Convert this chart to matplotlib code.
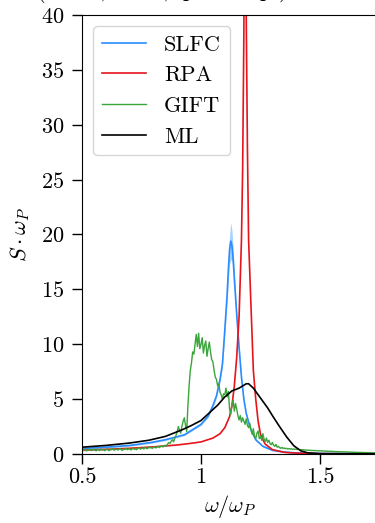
import numpy as np
import matplotlib
matplotlib.use("Agg")
from matplotlib import pyplot as plt

plt.rcParams['font.family'] = ['cmr10', 'DejaVu Serif']
plt.rcParams['mathtext.fontset'] = 'cm'
plt.rcParams['axes.formatter.use_mathtext'] = True
plt.rcParams['font.size'] = 16

# SLFC (blue) with uncertainty band
slfc_x = [0.50, 0.60, 0.70, 0.79, 0.85, 0.93, 1.00, 1.03, 1.05, 1.065,
          1.08, 1.09, 1.10, 1.11, 1.115, 1.12, 1.125, 1.13, 1.135, 1.14,
          1.15, 1.16, 1.17, 1.18, 1.19, 1.20, 1.21, 1.23, 1.26, 1.30,
          1.35, 1.40, 1.50, 1.75]
slfc_y = [0.50, 0.62, 0.78, 1.05, 1.30, 1.75, 2.70, 3.45, 4.40, 5.30,
          6.80, 8.20, 11.3, 14.6, 16.8, 18.6, 19.4, 19.0, 17.8, 16.0,
          12.7, 9.7, 7.0, 5.0, 3.7, 2.9, 2.2, 1.3, 0.7, 0.35,
          0.18, 0.10, 0.05, 0.03]
slfc_err = [0.08, 0.08, 0.08, 0.08, 0.08, 0.08, 0.10, 0.12, 0.15, 0.18,
            0.22, 0.30, 0.45, 0.65, 0.95, 1.30, 1.70, 1.40, 1.00, 0.70,
            0.45, 0.30, 0.22, 0.18, 0.15, 0.12, 0.10, 0.08, 0.08, 0.08,
            0.06, 0.05, 0.04, 0.03]

# RPA (red)
rpa_x = [0.50, 0.60, 0.70, 0.80, 0.90, 0.95, 1.00, 1.05, 1.08, 1.10,
         1.12, 1.13, 1.14, 1.15, 1.16, 1.17, 1.175, 1.18, 1.185, 1.19,
         1.195, 1.20, 1.21, 1.22, 1.23, 1.24, 1.25, 1.26, 1.27, 1.30,
         1.35, 1.40, 1.50, 1.75]
rpa_y = [0.35, 0.42, 0.52, 0.65, 0.82, 0.95, 1.10, 1.45, 1.85, 2.40,
         3.40, 4.40, 6.20, 8.80, 12.5, 19.5, 26.0, 38.0, 60.0, 40.0,
         28.0, 19.5, 13.5, 7.6, 5.0, 3.0, 1.8, 1.3, 0.9, 0.4,
         0.15, 0.08, 0.03, 0.01]

# ML (black)
ml_x = [0.50, 0.60, 0.70, 0.78, 0.85, 0.92, 0.96, 1.00, 1.04, 1.07,
        1.10, 1.13, 1.16, 1.19, 1.20, 1.22, 1.25, 1.28, 1.30, 1.33,
        1.36, 1.39, 1.42, 1.45, 1.50, 1.75]
ml_y = [0.62, 0.78, 1.00, 1.25, 1.60, 2.20, 2.60, 3.05, 3.85, 4.45,
        5.20, 5.75, 6.00, 6.40, 6.40, 6.00, 5.10, 4.20, 3.50, 2.50,
        1.55, 0.75, 0.28, 0.10, 0.03, 0.02]

# GIFT (green), sampled every 0.005 from 0.5 to 1.75
gift_y = [0.36, 0.30, 0.42, 0.33, 0.28, 0.40, 0.35, 0.45, 0.31, 0.38,
          0.42, 0.34, 0.29, 0.44, 0.37, 0.32, 0.46, 0.36, 0.41, 0.30,
          0.39, 0.47, 0.35, 0.31, 0.43, 0.38, 0.49, 0.34, 0.40, 0.45,
          0.36, 0.42, 0.50, 0.38, 0.33, 0.46, 0.41, 0.52, 0.39, 0.44,
          0.48, 0.37, 0.43, 0.55, 0.41, 0.47, 0.39, 0.52, 0.58, 0.44,
          0.50, 0.56, 0.46, 0.61, 0.52, 0.48, 0.63, 0.55, 0.60, 0.51,
          0.58, 0.66, 0.55, 0.62, 0.70, 0.59, 0.68, 0.75, 0.64, 0.72,
          0.80, 0.74, 0.92, 1.05, 0.96, 1.18, 1.30, 1.12, 1.45, 1.70,
          2.05, 2.50, 2.15, 1.90, 2.55, 3.00, 3.30, 2.60, 2.05, 4.40,
          6.20, 7.60, 8.30, 9.30, 9.10, 10.0, 10.9, 9.80, 11.0, 9.60,
          10.0, 10.6, 9.20, 9.90, 10.3, 8.90, 9.60, 10.2, 9.30, 8.60,
          8.40, 7.60, 7.00, 6.80, 6.20, 6.40, 5.60, 5.40, 5.00, 5.50,
          5.40, 6.00, 5.20, 5.70, 4.10, 3.60, 4.50, 4.90, 3.90, 4.60,
          4.10, 3.50, 3.10, 3.50, 2.90, 3.30, 3.00, 2.70, 3.20, 2.60,
          2.40, 2.80, 2.20, 1.80, 2.30, 1.60, 1.40, 1.90, 2.10, 1.40,
          1.60, 1.25, 1.85, 1.35, 1.15, 1.45, 1.05, 1.25, 0.95, 0.85,
          1.05, 0.80, 0.70, 0.88, 0.62, 0.70, 0.58, 0.52, 0.60, 0.50,
          0.55, 0.48, 0.52, 0.45, 0.50, 0.44, 0.48, 0.42, 0.46, 0.43,
          0.45, 0.40, 0.43, 0.38, 0.41, 0.37, 0.40, 0.35, 0.38, 0.34,
          0.36, 0.32, 0.35, 0.31, 0.33, 0.30, 0.32, 0.29, 0.31, 0.28,
          0.30, 0.27, 0.29, 0.26, 0.28, 0.25, 0.27, 0.24, 0.26, 0.24,
          0.25, 0.22, 0.24, 0.21, 0.23, 0.20, 0.22, 0.20, 0.21, 0.19,
          0.20, 0.18, 0.20, 0.17, 0.19, 0.16, 0.18, 0.16, 0.17, 0.15,
          0.16, 0.14, 0.16, 0.13, 0.15, 0.13, 0.14, 0.12, 0.14, 0.12,
          0.13, 0.11, 0.13, 0.11, 0.12, 0.10, 0.12, 0.10, 0.11, 0.10,
          0.10]
gift_x = np.linspace(0.5, 1.75, len(gift_y))

xticks = [0.5, 1.0, 1.5]
xtick_labels = ['0.5', '1', '1.5']
yticks = [0, 5, 10, 15, 20, 25, 30, 35, 40]

blue = '#2a8cff'
red = '#e8141c'
green = '#3aa53a'

fig = plt.figure(figsize=(3.75, 5.23), dpi=100)
ax = fig.add_axes([82 / 375, 1 - 454 / 523, 297.5 / 375, 439 / 523])

lo = np.array(slfc_y) - np.array(slfc_err)
hi = np.array(slfc_y) + np.array(slfc_err)
ax.fill_between(slfc_x, lo, hi, color=blue, alpha=0.4, lw=0)
ax.plot(slfc_x, slfc_y, color=blue, lw=1.2, label='SLFC')
ax.plot(rpa_x, rpa_y, color=red, lw=1.2, label='RPA')
ax.plot(gift_x, gift_y, color=green, lw=1.0, label='GIFT')
ax.plot(ml_x, ml_y, color='black', lw=1.2, label='ML')

ax.set_xlim(0.5, 1.75)
ax.set_ylim(0, 40)
ax.set_xticks(xticks, xtick_labels)
ax.set_yticks(yticks)
ax.tick_params(axis='both', length=7, width=1.0)
ax.tick_params(axis='y', pad=6)
ax.tick_params(axis='x', pad=3)
ax.set_xlabel(r'$\omega/\omega_P$')
ax.set_ylabel(r'$S\cdot\omega_P$', labelpad=6)

ax.legend(loc='upper left')

# title of the original panel, mostly above the crop
fig.text(161 / 375, 1 + 3 / 523, r'$(r_s = 2,\ \theta = 1,\ q = 1.53\,q_F)$',
         ha='center', va='baseline', fontsize=16)

fig.savefig('out.png', dpi=100)
